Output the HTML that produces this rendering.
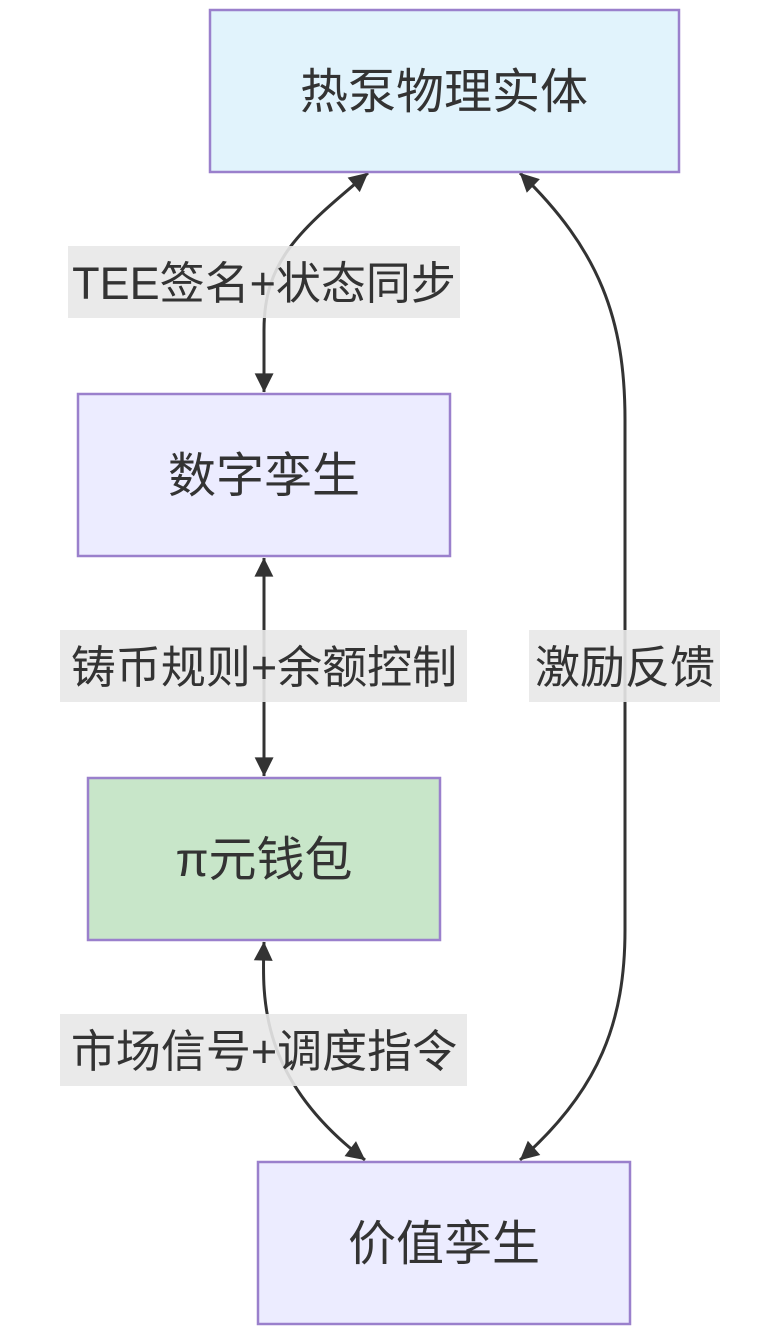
<!DOCTYPE html>
<html><head><meta charset="utf-8"><style>
html,body{margin:0;padding:0;background:#fff;}
svg{display:block}
text{font-family:"Liberation Sans","Noto Sans CJK SC",sans-serif;fill:#333;}
</style></head><body>
<svg width="780" height="1331" viewBox="0 0 780 1331" xmlns="http://www.w3.org/2000/svg">
<defs>
<marker id="a" viewBox="0 0 10 10" refX="9" refY="5" markerWidth="7" markerHeight="7" markerUnits="userSpaceOnUse" orient="auto-start-reverse" overflow="visible">
<path d="M0,0 L10,5 L0,10 z" fill="#333" transform="scale(2.7) translate(-6.5,-3.2)"/>
</marker>
</defs>
<g fill="none" stroke="#333" stroke-width="3">
<path d="M368,173 C300,230 264,260 264,330 L264,392" marker-start="url(#a)" marker-end="url(#a)"/>
<path d="M264,558 L264,776" marker-start="url(#a)" marker-end="url(#a)"/>
<path d="M264,942 C262,1000 260,1080 365,1160" marker-start="url(#a)" marker-end="url(#a)"/>
<path d="M520,173 C600,250 625,320 625,420 L625,930 C625,1020 600,1090 520,1160" marker-start="url(#a)" marker-end="url(#a)"/>
</g>
<rect x="68" y="246" width="392" height="72" fill="#e8e8e8" opacity="0.9"/>
<text x="264" y="299" font-size="45" text-anchor="middle">TEE签名+状态同步</text>
<rect x="60" y="630" width="407" height="72" fill="#e8e8e8" opacity="0.9"/>
<text x="264" y="683" font-size="45" text-anchor="middle">铸币规则+余额控制</text>
<rect x="529" y="630" width="191" height="72" fill="#e8e8e8" opacity="0.9"/>
<text x="625" y="683" font-size="45" text-anchor="middle">激励反馈</text>
<rect x="60" y="1014" width="407" height="72" fill="#e8e8e8" opacity="0.9"/>
<text x="264" y="1067" font-size="45" text-anchor="middle">市场信号+调度指令</text>
<g stroke="#9a80cc" stroke-width="2.5">
<rect x="210" y="10" width="469" height="162" fill="#e1f3fc"/>
<rect x="78" y="394" width="372" height="162" fill="#ececff"/>
<rect x="88" y="778" width="352" height="162" fill="#c8e6c9"/>
<rect x="258" y="1162" width="372" height="162" fill="#ececff"/>
</g>
<text x="444" y="108" font-size="48" text-anchor="middle">热泵物理实体</text>
<text x="264" y="492" font-size="48" text-anchor="middle">数字孪生</text>
<text x="264" y="876" font-size="48" text-anchor="middle">π元钱包</text>
<text x="444" y="1260" font-size="48" text-anchor="middle">价值孪生</text>
</svg>
</body></html>
